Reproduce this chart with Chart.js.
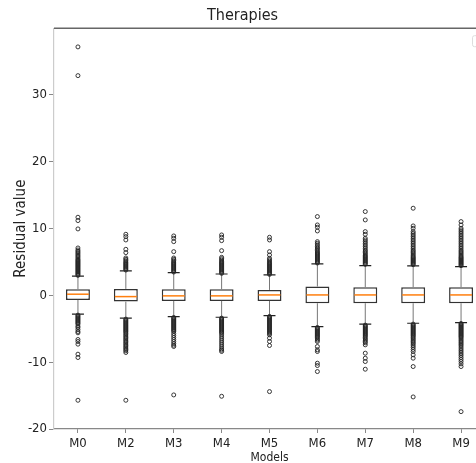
<!DOCTYPE html>
<html>
<head>
<meta charset="utf-8">
<script src="https://cdn.jsdelivr.net/npm/chart.js@4/dist/chart.umd.min.js"></script>
<style>
  html, body { margin: 0; padding: 0; background: #fff; overflow: hidden; }
  #wrap { width: 500px; height: 463px; }
</style>
</head>
<body>
<div id="wrap"><canvas id="chart" width="500" height="463"></canvas></div>
<script>
// Box-plot summary per model
const models = ['M0', 'M2', 'M3', 'M4', 'M5', 'M6', 'M7', 'M8', 'M9'];
const whiskerLow  = [-2.8, -3.41, -3.17, -3.27, -3.02, -4.67, -4.31, -4.17, -4.07];
const q1          = [-0.67, -0.93, -0.82, -0.82, -0.82, -1.17, -1.17, -1.17, -1.17];
const median      = [0.18, -0.18, -0.07, -0.07, 0.07, 0.07, 0.07, 0.07, 0.07];
const q3          = [0.93, 0.97, 0.93, 0.93, 0.82, 1.32, 1.23, 1.23, 1.23];
const whiskerHigh = [2.9, 3.67, 3.41, 3.2, 3.07, 4.72, 4.47, 4.42, 4.32];
const yTicks = [-20, -10, 0, 10, 20, 30];

// Outliers (fliers) per model
const fliersM0 = [37.2, 32.9, 11.7, 11.2, 9.95, 7.1, 6.8, 6.6, 6.4, 6.2, 6.0, 5.8, 5.6, 5.4, 5.25, 5.1, 4.95, 4.8, 4.65, 4.5, 4.35, 4.2, 4.05, 3.9, 3.75, 3.6, 3.45, 3.3, 3.15, 3.0,
  -2.95, -3.1, -3.25, -3.4, -3.55, -3.7, -3.85, -4.0, -4.15, -4.3, -4.6, -4.8, -5.1, -5.4, -5.6, -6.6, -6.9, -7.3, -8.8, -9.3, -15.7];
const fliersM2 = [9.15, 8.8, 8.3, 6.9, 6.4, 5.6, 5.4, 5.2, 5.0, 4.85, 4.7, 4.55, 4.4, 4.25, 4.1, 3.95, 3.8,
  -3.55, -3.7, -3.85, -4.0, -4.15, -4.3, -4.45, -4.6, -4.75, -4.9, -5.05, -5.2, -5.35, -5.5, -5.7, -5.9, -6.1, -6.3, -6.5, -6.7, -6.9, -7.1, -7.3, -7.5, -7.7, -7.9, -8.1, -8.3, -8.55, -15.7];
const fliersM3 = [8.9, 8.55, 8.05, 6.55, 5.6, 5.4, 5.2, 5.0, 4.85, 4.7, 4.55, 4.4, 4.25, 4.1, 3.95, 3.8, 3.65, 3.5,
  -3.3, -3.45, -3.6, -3.75, -3.9, -4.05, -4.2, -4.35, -4.5, -4.65, -4.8, -4.95, -5.1, -5.25, -5.4, -5.7, -6.0, -6.3, -6.6, -6.9, -7.2, -7.45, -7.65, -14.9];
const fliersM4 = [9.05, 8.7, 8.2, 6.7, 5.7, 5.5, 5.3, 5.1, 4.95, 4.8, 4.65, 4.5, 4.35, 4.2, 4.05, 3.9, 3.75, 3.6, 3.45, 3.3,
  -3.4, -3.55, -3.7, -3.85, -4.0, -4.15, -4.3, -4.45, -4.6, -4.75, -4.9, -5.05, -5.2, -5.35, -5.5, -5.65, -5.9, -6.2, -6.5, -6.8, -7.1, -7.4, -7.7, -8.0, -8.2, -8.4, -15.1];
const fliersM5 = [8.7, 8.3, 6.55, 6.05, 5.55, 5.35, 5.15, 4.95, 4.8, 4.65, 4.5, 4.35, 4.2, 4.05, 3.9, 3.75, 3.6, 3.45, 3.3, 3.15,
  -3.15, -3.3, -3.45, -3.6, -3.75, -3.9, -4.05, -4.2, -4.35, -4.5, -4.65, -4.8, -4.95, -5.1, -5.25, -5.4, -5.55, -5.7, -5.9, -6.4, -6.9, -7.5, -14.4];
const fliersM6 = [11.8, 10.55, 10.2, 9.65, 8.05, 7.8, 7.55, 7.3, 7.1, 6.9, 6.7, 6.5, 6.35, 6.2, 6.05, 5.9, 5.75, 5.6, 5.45, 5.3, 5.15, 5.0, 4.85,
  -4.8, -4.95, -5.1, -5.25, -5.4, -5.55, -5.7, -5.85, -6.0, -6.15, -6.3, -6.5, -6.7, -6.9, -7.65, -8.15, -8.4, -10.15, -10.5, -11.4];
const fliersM7 = [12.55, 11.3, 9.55, 9.15, 8.55, 8.3, 8.05, 7.8, 7.55, 7.3, 7.05, 6.8, 6.6, 6.4, 6.2, 6.0, 5.85, 5.7, 5.55, 5.4, 5.25, 5.1, 4.95, 4.8, 4.65,
  -4.45, -4.6, -4.75, -4.9, -5.05, -5.2, -5.35, -5.5, -5.65, -5.8, -5.95, -6.1, -6.3, -6.5, -6.7, -6.9, -7.1, -7.4, -8.65, -9.4, -9.9, -11.05];
const fliersM8 = [13.05, 10.4, 10.05, 9.55, 9.3, 9.05, 8.8, 8.55, 8.3, 8.05, 7.8, 7.55, 7.3, 7.05, 6.8, 6.6, 6.4, 6.2, 6.0, 5.8, 5.65, 5.5, 5.35, 5.2, 5.05, 4.9, 4.75, 4.6,
  -4.3, -4.45, -4.6, -4.75, -4.9, -5.05, -5.2, -5.35, -5.5, -5.65, -5.8, -5.95, -6.1, -6.3, -6.5, -6.7, -6.9, -7.1, -7.3, -7.55, -7.8, -8.1, -8.4, -8.9, -9.4, -10.65, -15.2];
const fliersM9 = [11.05, 10.55, 10.05, 9.8, 9.55, 9.3, 9.05, 8.8, 8.55, 8.3, 8.05, 7.8, 7.55, 7.3, 7.05, 6.8, 6.6, 6.4, 6.2, 6.0, 5.8, 5.65, 5.5, 5.35, 5.2, 5.05, 4.9, 4.75, 4.6, 4.45,
  -4.2, -4.35, -4.5, -4.65, -4.8, -4.95, -5.1, -5.25, -5.4, -5.55, -5.7, -5.85, -6.0, -6.15, -6.3, -6.5, -6.7, -6.9, -7.1, -7.3, -7.5, -7.75, -8.0, -8.25, -8.5, -8.75, -9.0, -9.3, -9.6, -9.9, -10.25, -10.65, -17.4];
const fliers = [fliersM0, fliersM2, fliersM3, fliersM4, fliersM5, fliersM6, fliersM7, fliersM8, fliersM9];

const FONT = "'Liberation Sans Narrow', 'DejaVu Sans Condensed', sans-serif";

const flierPoints = [];
fliers.forEach((vals, i) => vals.forEach(v => flierPoints.push({ x: models[i], y: v })));

// Whiskers, caps and medians drawn on top of the boxes
const boxExtras = {
  id: 'boxExtras',
  afterDatasetDraw(chart, args) {
    if (args.index !== 0) return;
    const { ctx, scales: { x, y } } = chart;
    const meta = chart.getDatasetMeta(0);
    ctx.save();
    models.forEach((m, i) => {
      const cx = x.getPixelForValue(i);
      const half = meta.data[i].width / 2;
      const capHalf = half / 2;
      ctx.strokeStyle = '#777';
      ctx.lineWidth = 1;
      ctx.beginPath();
      ctx.moveTo(cx, y.getPixelForValue(q3[i]));
      ctx.lineTo(cx, y.getPixelForValue(whiskerHigh[i]));
      ctx.moveTo(cx, y.getPixelForValue(q1[i]));
      ctx.lineTo(cx, y.getPixelForValue(whiskerLow[i]));
      ctx.stroke();
      ctx.strokeStyle = '#222';
      ctx.lineWidth = 1.2;
      ctx.beginPath();
      const yh = y.getPixelForValue(whiskerHigh[i]);
      const yl = y.getPixelForValue(whiskerLow[i]);
      ctx.moveTo(cx - capHalf, yh); ctx.lineTo(cx + capHalf, yh);
      ctx.moveTo(cx - capHalf, yl); ctx.lineTo(cx + capHalf, yl);
      ctx.stroke();
      ctx.strokeStyle = '#ff7f0e';
      ctx.lineWidth = 1.5;
      ctx.beginPath();
      const ym = y.getPixelForValue(median[i]);
      ctx.moveTo(cx - half + 1, ym); ctx.lineTo(cx + half - 1, ym);
      ctx.stroke();
    });
    ctx.restore();
  },
  afterDraw(chart) {
    const { ctx, chartArea: a } = chart;
    ctx.save();
    // top and right spines
    ctx.strokeStyle = '#666';
    ctx.lineWidth = 1.5;
    ctx.beginPath();
    ctx.moveTo(a.left, a.top); ctx.lineTo(a.right, a.top); ctx.lineTo(a.right, a.bottom);
    ctx.stroke();
    // empty legend frame
    ctx.strokeStyle = '#ddd';
    ctx.lineWidth = 1;
    ctx.beginPath();
    ctx.roundRect(a.right - 12.5, a.top + 7.5, 10, 11, 2);
    ctx.stroke();
    ctx.restore();
  }
};

new Chart(document.getElementById('chart'), {
  type: 'bar',
  data: {
    labels: models,
    datasets: [
      {
        type: 'bar',
        data: models.map((m, i) => [q1[i], q3[i]]),
        backgroundColor: '#fff',
        borderColor: '#333',
        borderWidth: 1.5,
        borderSkipped: false,
        categoryPercentage: 1,
        barPercentage: 0.5,
        order: 2
      },
      {
        type: 'scatter',
        data: flierPoints,
        pointStyle: 'circle',
        pointRadius: 2,
        pointBorderWidth: 0.9,
        pointBorderColor: '#222',
        pointBackgroundColor: 'rgba(0,0,0,0)',
        order: 1
      }
    ]
  },
  options: {
    responsive: false,
    animation: false,
    layout: { padding: { left: 0, right: 15, top: 0, bottom: 0 } },
    plugins: {
      legend: { display: false },
      tooltip: { enabled: false },
      title: {
        display: true,
        text: 'Therapies',
        color: '#222',
        font: { family: FONT, size: 16, weight: 'normal' },
        padding: { top: 6, bottom: 3 }
      }
    },
    scales: {
      x: {
        type: 'category',
        offset: true,
        grid: { display: true, offset: false, drawOnChartArea: false, drawTicks: true, tickLength: 4, color: '#888' },
        border: { display: true, color: '#888', width: 1.2 },
        ticks: { color: '#222', font: { family: FONT, size: 13 }, padding: 3, maxRotation: 0 },
        title: { display: true, text: 'Models', color: '#222', font: { family: FONT, size: 12 }, padding: { top: 0, bottom: -2 } },
        afterFit(s) { s.height = 34; }
      },
      y: {
        min: -20,
        max: 40,
        grid: { display: true, drawOnChartArea: false, drawTicks: true, tickLength: 5, color: '#888' },
        border: { display: true, color: '#ccc', width: 1.2 },
        ticks: { color: '#222', font: { family: FONT, size: 13 }, padding: 2 },
        afterBuildTicks(s) { s.ticks = yTicks.map(v => ({ value: v })); },
        title: { display: true, text: 'Residual value', color: '#222', font: { family: FONT, size: 15 }, padding: { top: 12, bottom: 0 } },
        afterFit(s) { s.width = 54; }
      }
    }
  },
  plugins: [boxExtras]
});
</script>
</body>
</html>
